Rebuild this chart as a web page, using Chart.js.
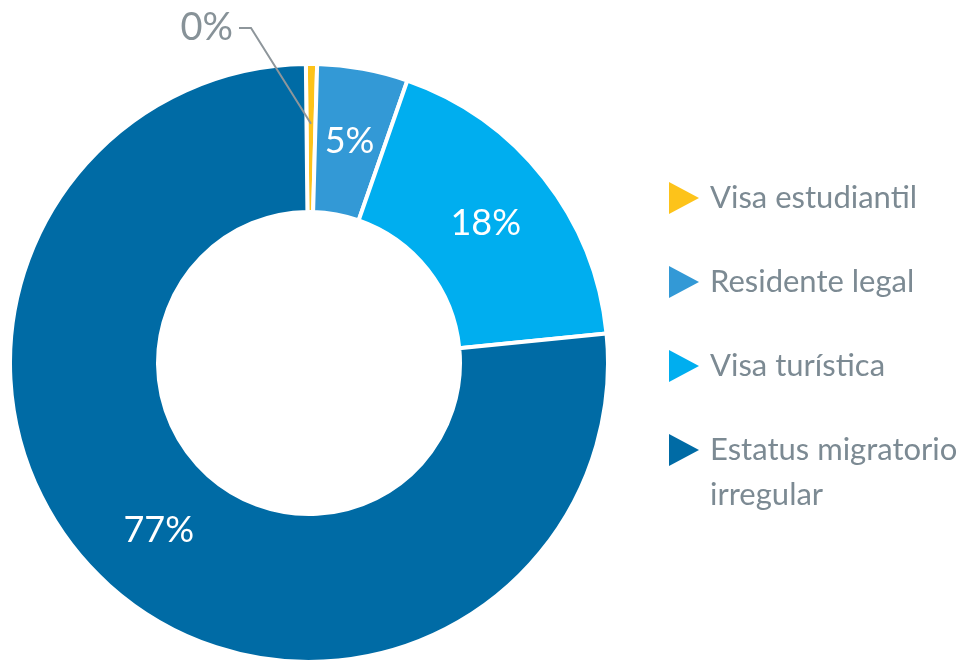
<!DOCTYPE html>
<html>
<head>
<meta charset="utf-8">
<script src="https://cdn.jsdelivr.net/npm/chart.js@4.4.1/dist/chart.umd.min.js"></script>
<style>
  html, body { margin: 0; padding: 0; background: #fff; overflow: hidden; }
  #wrap { width: 968px; height: 664px; position: relative; }
</style>
</head>
<body>
<div id="wrap"><canvas id="chart"></canvas></div>
<script>
const categories = ['Visa estudiantil', 'Residente legal', 'Visa turística', 'Estatus migratorio irregular'];
const legendLines = [['Visa estudiantil'], ['Residente legal'], ['Visa turística'], ['Estatus migratorio', 'irregular']];
const shares = [0.6, 4.9, 18.1, 76.4];
const shareLabels = ['0%', '5%', '18%', '77%'];
const colors = ['#FDC31A', '#3399D6', '#00AEEF', '#006BA5'];

const textGrey = '#7C8A93';
const fontFamily = 'Lato, "Open Sans", sans-serif';

// percent labels on the slices, the tiny one goes outside with a leader line
const sliceLabels = {
    id: 'sliceLabels',
    afterDatasetsDraw(chart) {
        const ctx = chart.ctx;
        const arcs = chart.getDatasetMeta(0).data;
        ctx.save();
        ctx.textAlign = 'center';
        ctx.textBaseline = 'middle';
        arcs.forEach((arc, i) => {
            if (i === 0) {
                const mid = (arc.startAngle + arc.endAngle) / 2;
                const r = arc.outerRadius * 0.8;
                const end = { x: arc.x + Math.cos(mid) * r, y: arc.y + Math.sin(mid) * r };
                const elbow = { x: end.x - 60, y: arc.y - arc.outerRadius - 36 };
                ctx.strokeStyle = '#8E969B';
                ctx.lineWidth = 2;
                ctx.beginPath();
                ctx.moveTo(end.x, end.y);
                ctx.lineTo(elbow.x, elbow.y);
                ctx.lineTo(elbow.x - 12, elbow.y);
                ctx.stroke();
                ctx.fillStyle = '#879298';
                ctx.font = '400 38px ' + fontFamily;
                ctx.textAlign = 'right';
                ctx.fillText(shareLabels[i], elbow.x - 18, elbow.y);
                ctx.textAlign = 'center';
            } else {
                const p = arc.tooltipPosition();
                ctx.fillStyle = '#FFFFFF';
                ctx.font = '400 36px ' + fontFamily;
                ctx.fillText(shareLabels[i], p.x, p.y);
            }
        });
        ctx.restore();
    }
};

// legend with right-pointing triangles
const triangleLegend = {
    id: 'triangleLegend',
    afterDraw(chart) {
        const ctx = chart.ctx;
        const left = 669, top = 198, step = 84;
        ctx.save();
        ctx.font = '400 31px ' + fontFamily;
        ctx.textBaseline = 'middle';
        ctx.textAlign = 'left';
        legendLines.forEach((lines, i) => {
            const y = top + i * step;
            ctx.fillStyle = colors[i];
            ctx.beginPath();
            ctx.moveTo(left, y - 16);
            ctx.lineTo(left + 30, y);
            ctx.lineTo(left, y + 16);
            ctx.closePath();
            ctx.fill();
            ctx.fillStyle = textGrey;
            lines.forEach((line, j) => {
                ctx.fillText(line, left + 41, y + j * 45);
            });
        });
        ctx.restore();
    }
};

new Chart(document.getElementById('chart'), {
    type: 'doughnut',
    data: {
        labels: categories,
        datasets: [{
            data: shares,
            backgroundColor: colors,
            borderColor: '#FFFFFF',
            borderWidth: 4
        }]
    },
    options: {
        responsive: true,
        maintainAspectRatio: false,
        animation: false,
        cutout: '50.5%',
        rotation: -0.6,
        layout: {
            padding: { left: 8, top: 62, right: 358, bottom: 0 }
        },
        plugins: {
            legend: { display: false },
            tooltip: { enabled: false }
        }
    },
    plugins: [sliceLabels, triangleLegend]
});
</script>
</body>
</html>
